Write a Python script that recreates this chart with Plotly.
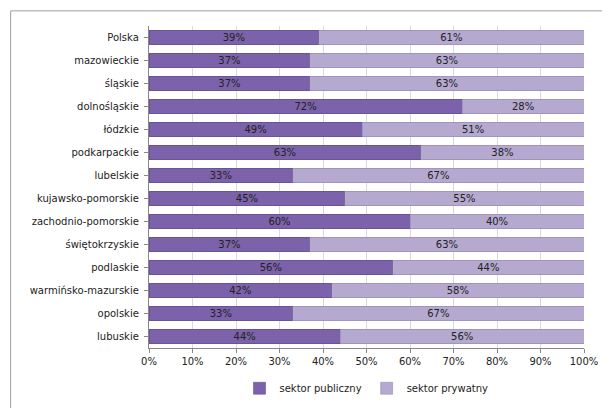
import plotly.graph_objects as go

regions = ["Polska", "mazowieckie", "śląskie", "dolnośląskie", "łódzkie", "podkarpackie",
           "lubelskie", "kujawsko-pomorskie", "zachodnio-pomorskie", "świętokrzyskie",
           "podlaskie", "warmińsko-mazurskie", "opolskie", "lubuskie"]
public = [39, 37, 37, 72, 49, 62.5, 33, 45, 60, 37, 56, 42, 33, 44]
private = [61, 63, 63, 28, 51, 37.5, 67, 55, 40, 63, 44, 58, 67, 56]
x_ticks = list(range(0, 101, 10))

fig = go.Figure()
fig.add_trace(go.Bar(y=regions, x=public, orientation="h", name="sektor publiczny",
                     marker=dict(color="#7b62aa", line=dict(color="#5a4585", width=0.5)),
                     texttemplate="%{x:.0f}%", textposition="inside", insidetextanchor="middle",
                     constraintext="none", textfont=dict(color="#222222", size=10)))
fig.add_trace(go.Bar(y=regions, x=private, orientation="h", name="sektor prywatny",
                     marker=dict(color="#b5a9cf", line=dict(color="#8e80ad", width=0.5)),
                     texttemplate="%{x:.0f}%", textposition="inside", insidetextanchor="middle",
                     constraintext="none", textfont=dict(color="#222222", size=10)))

fig.update_layout(
    barmode="stack", bargap=0.36,
    width=610, height=408,
    paper_bgcolor="white", plot_bgcolor="white",
    font=dict(family="DejaVu Sans", size=10, color="#222222"),
    margin=dict(l=141, r=34, t=18, b=68),
    uniformtext=dict(minsize=10, mode="show"),
    legend=dict(orientation="h", x=0.5, xanchor="center", y=-0.08, yanchor="top",
                traceorder="normal", font=dict(size=10)),
    xaxis=dict(range=[0, 100], tickvals=x_ticks, ticktext=[f"{v}%" for v in x_ticks],
               showgrid=True, gridcolor="#d9d9d9", showline=True, linecolor="#888888",
               ticks="outside", tickcolor="#888888", ticklen=4, zeroline=False),
    yaxis=dict(autorange="reversed", showline=True, linecolor="#888888",
               ticks="outside", tickcolor="#888888", ticklen=4, ticksuffix=" "),
    shapes=[dict(type="rect", xref="paper", yref="paper", x0=-0.318, x1=1.067, y0=-0.196, y1=1.047,
                 line=dict(color="#a0a0a0", width=1))],
)

fig.write_html("out.html")
